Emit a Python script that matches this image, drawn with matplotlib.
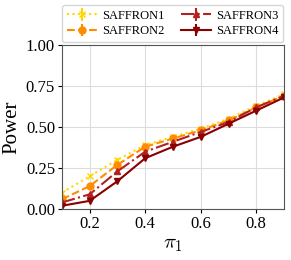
import numpy as np
from matplotlib import pyplot as plt

# Data
pi1 = [0.1, 0.2, 0.3, 0.4, 0.5, 0.6, 0.7, 0.8, 0.9]
saffron1 = [0.10, 0.20, 0.30, 0.39, 0.44, 0.49, 0.55, 0.63, 0.70]
saffron2 = [0.06, 0.14, 0.27, 0.38, 0.43, 0.48, 0.54, 0.62, 0.69]
saffron3 = [0.04, 0.09, 0.23, 0.35, 0.41, 0.47, 0.53, 0.62, 0.69]
saffron4 = [0.02, 0.05, 0.17, 0.31, 0.38, 0.44, 0.52, 0.60, 0.68]
err = [0.01] * 9

plt.rcParams['font.family'] = ['Liberation Serif', 'DejaVu Serif']
plt.rcParams['mathtext.fontset'] = 'cm'

fig = plt.figure(figsize=(2.91, 2.6), dpi=100)
ax = fig.add_axes([0.213, 0.196, 0.763, 0.631])

series = [
    ("SAFFRON1", saffron1, "#ffd700", "x", ":"),
    ("SAFFRON2", saffron2, "#ff8c00", "o", "--"),
    ("SAFFRON3", saffron3, "#b22222", "^", "-."),
    ("SAFFRON4", saffron4, "#8b0000", "v", "-"),
]
for label, vals, color, marker, ls in series:
    ax.errorbar(pi1, vals, yerr=err, color=color, marker=marker, linestyle=ls,
                linewidth=1.5, markersize=5, label=label)

ax.set_xlim(0.1, 0.9)
ax.set_ylim(0, 1)
ax.set_xticks([0.2, 0.4, 0.6, 0.8])
ax.set_yticks([0, 0.25, 0.5, 0.75, 1.0])
ax.set_yticklabels(["0.00", "0.25", "0.50", "0.75", "1.00"])
ax.tick_params(labelsize=12, length=3, pad=2)
ax.grid(True, color='#dddddd', linewidth=0.8)
for s in ax.spines.values():
    s.set_color('#555555')

ax.set_xlabel(r"$\pi_1$", fontsize=15, labelpad=2)
ax.set_ylabel("Power", fontsize=15, labelpad=3)

ax.legend(loc='lower center', bbox_to_anchor=(0.5, 1.0), ncol=2, fontsize=9,
          handlelength=2.4, columnspacing=1.3, borderaxespad=0.2, handletextpad=0.4,
          labelspacing=0.3)

fig.savefig("out.png", dpi=100)
